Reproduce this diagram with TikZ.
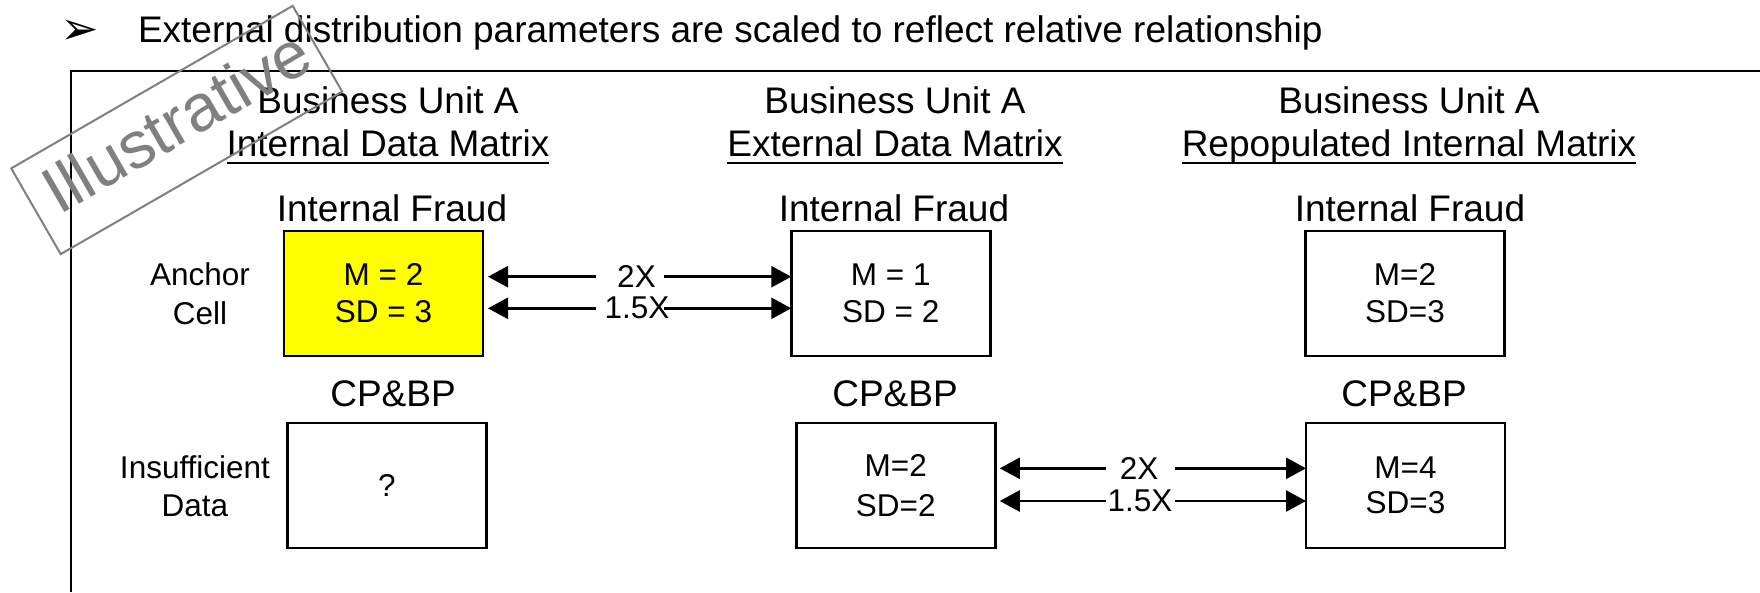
\documentclass[tikz,border=0pt]{standalone}
\usepackage{fontspec}
\setmainfont{Liberation Sans}
\newfontfamily\symfont{DejaVu Sans}
\usetikzlibrary{arrows.meta}
\definecolor{stampgray}{RGB}{128,128,128}
\definecolor{anchoryellow}{RGB}{255,255,0}

\begin{document}
\begin{tikzpicture}[x=1pt,y=-1pt,
  every node/.style={inner sep=0pt, outer sep=0pt},
  big/.style={font=\fontsize{37}{44}\selectfont},
  small/.style={font=\fontsize{31.5}{37}\selectfont, align=center},
  cell/.style={draw, line width=2.5pt, minimum width=199pt, minimum height=125pt, small},
  anchorcell/.style={cell, fill=anchoryellow},
  gapbox/.style={minimum width=68pt, minimum height=2pt},
  link/.style={line width=2.5pt, -{Triangle[length=20pt,width=21pt]}},
  stampbox/.style={draw=stampgray, line width=2pt, minimum width=325pt, minimum height=99pt, rotate=30},
  stamptext/.style={font=\fontsize{66}{78}\selectfont, text=stampgray, rotate=30},
  underlined/.style={line width=2.5pt}
]
\useasboundingbox (0,0) rectangle (1760,592);
\fill[white] (0,0) rectangle (1760,592);

% outer frame (runs off the right and bottom edges)
\draw[line width=2pt] (71,592) |- (1760,71);

% heading line
\node[font=\symfont\fontsize{46}{50}\selectfont] (bullet) at (80,32.5) {➢};
\node[big, anchor=base west] (title) at (138,42) {External distribution parameters are scaled to reflect relative relationship};

% column headings
\node[big, anchor=base] (h1a) at (388,113) {Business Unit A};
\node[big, anchor=base] (h1b) at (388,156) {Internal Data Matrix};
\node[big, anchor=base] (h2a) at (895,113) {Business Unit A};
\node[big, anchor=base] (h2b) at (895,156) {External Data Matrix};
\node[big, anchor=base] (h3a) at (1409,113) {Business Unit A};
\node[big, anchor=base] (h3b) at (1409,156) {Repopulated Internal Matrix};
\foreach \h in {h1b,h2b,h3b}
  \draw[underlined] ([yshift=-7pt]\h.base west) -- ([yshift=-7pt]\h.base east);

% risk type captions
\node[big, anchor=base] (if1) at (392,221) {Internal Fraud};
\node[big, anchor=base] (if2) at (894,221) {Internal Fraud};
\node[big, anchor=base] (if3) at (1410,221) {Internal Fraud};
\node[big, anchor=base] (cp1) at (393,406) {CP\&BP};
\node[big, anchor=base] (cp2) at (895,406) {CP\&BP};
\node[big, anchor=base] (cp3) at (1404,406) {CP\&BP};

% matrix cells
\node[anchorcell] (A1) at (383.5,293.5) {M = 2\\SD = 3};
\node[cell] (E1) at (890.75,293.5) {M = 1\\SD = 2};
\node[cell] (R1) at (1405,293.5) {M=2\\SD=3};
\node[cell] (A2) at (387,485.5) {?};
\node[cell] (E2) at (895.75,485.5) {M=2\\[3pt]SD=2};
\node[cell] (R2) at (1405.5,485.5) {M=4\\[-2pt]SD=3};

% row labels
\node[small] (lab1) at (200,293.4) {Anchor\\[1.7pt]Cell};
\node[small] (lab2) at (195,486) {Insufficient\\[1.3pt]Data};

% scaling factors: anchor cell vs external cell
\node[gapbox] (g1) at (630,276.7) {};
\node[gapbox] (g2) at (630,308.3) {};
\node[small] (f1) at (636.5,276.7) {2X};
\node[small] (f2) at (637,308.3) {1.5X};
\draw[link, shorten >=5pt] (g1.west) -- (g1.west -| A1.east);
\draw[link] (g1.east) -- (g1.east -| E1.west);
\draw[link, shorten >=5pt] (g2.west) -- (g2.west -| A1.east);
\draw[link] (g2.east) -- (g2.east -| E1.west);

% scaling factors applied to the CP&BP cell
\node[gapbox, minimum width=69pt] (g3) at (1140.5,468.3) {};
\node[gapbox, minimum width=69pt] (g4) at (1140.5,501) {};
\node[small] (f3) at (1139,468.3) {2X};
\node[small] (f4) at (1140,501) {1.5X};
\draw[link, shorten >=4.5pt] (g3.west) -- (g3.west -| E2.east);
\draw[link] (g3.east) -- (g3.east -| R2.west);
\draw[link, shorten >=4.5pt] (g4.west) -- (g4.west -| E2.east);
\draw[link] (g4.east) -- (g4.east -| R2.west);

% stamp
\node[stampbox] (stamp) at (176.7,130) {};
\node[stamptext] (stamplabel) at (176,121) {Illustrative};
\end{tikzpicture}
\end{document}
